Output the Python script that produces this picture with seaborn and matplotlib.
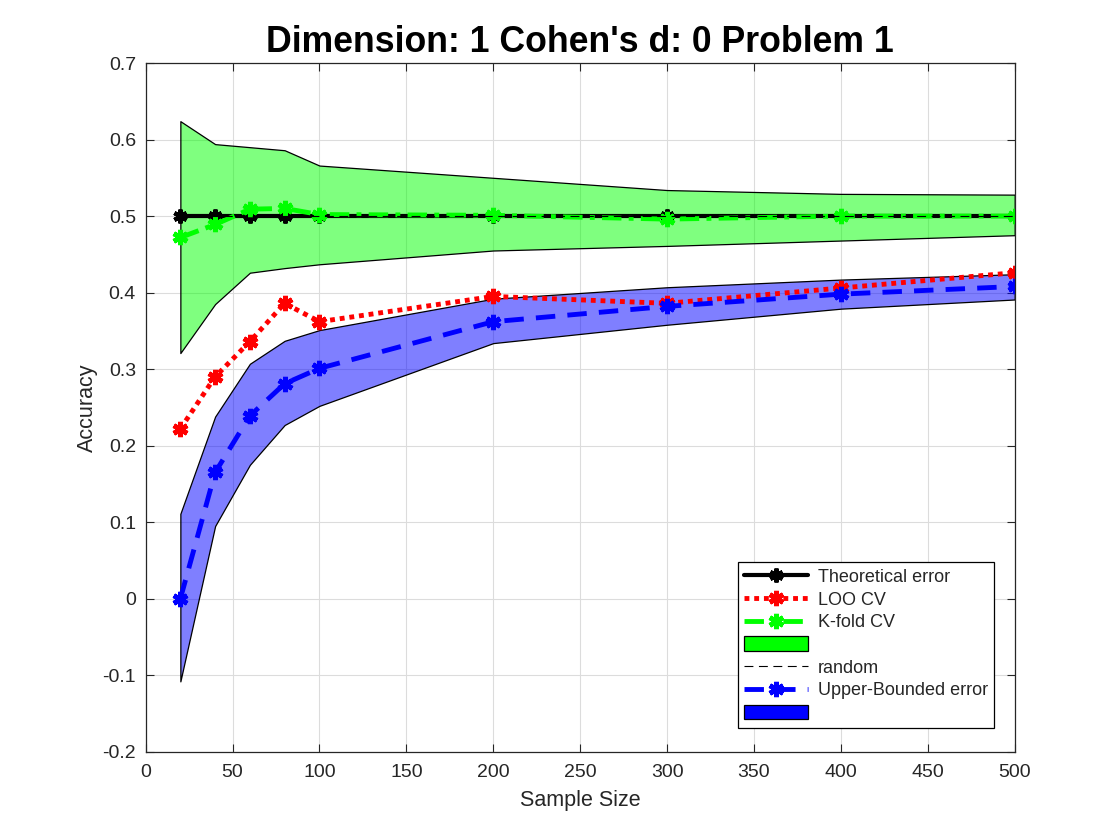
import numpy as np
import pandas as pd
import matplotlib
matplotlib.use("Agg")
import matplotlib.pyplot as plt
import seaborn as sns
from matplotlib.lines import Line2D
from matplotlib.patches import Patch


# ==================================
# DATA
# ==================================

sample_sizes = [20, 40, 60, 80, 100, 200, 300, 400, 500]

theoretical = [0.5, 0.5, 0.5, 0.5, 0.5, 0.5, 0.5, 0.5, 0.5]

loo_cv = [0.222, 0.290, 0.336, 0.386, 0.362, 0.395, 0.386, 0.406, 0.426]

kfold_cv = [0.472, 0.489, 0.509, 0.510, 0.502, 0.501, 0.496, 0.500, 0.500]
kfold_upper = [0.624, 0.594, 0.590, 0.586, 0.566, 0.550, 0.534, 0.529, 0.528]
kfold_lower = [0.321, 0.385, 0.426, 0.432, 0.437, 0.455, 0.461, 0.468, 0.475]

random_level = [0.5, 0.5]
random_x = [20, 500]

upper_bounded = [0.0, 0.165, 0.239, 0.281, 0.301, 0.362, 0.382, 0.398, 0.408]
ub_upper = [0.111, 0.238, 0.307, 0.337, 0.351, 0.392, 0.407, 0.417, 0.424]
ub_lower = [-0.108, 0.095, 0.175, 0.227, 0.252, 0.334, 0.358, 0.379, 0.391]

title_text = "Dimension: 1 Cohen's d: 0 Problem 1"

df = pd.DataFrame({
    "n": sample_sizes,
    "theoretical": theoretical,
    "loo": loo_cv,
    "kfold": kfold_cv,
    "ub": upper_bounded,
})


# ==================================
# STYLE
# ==================================

sns.set_style("ticks")
plt.rcParams["font.family"] = ["Liberation Sans", "DejaVu Sans"]
plt.rcParams["xtick.direction"] = "in"
plt.rcParams["ytick.direction"] = "in"

asterisk = (6, 2, 0)

fig = plt.figure(figsize=(11.2, 8.4), dpi=100)
ax = fig.add_axes([0.130, 0.105, 0.776, 0.820])


# ==================================
# PLOT
# ==================================

sns.lineplot(
    data=df, x="n", y="theoretical", ax=ax,
    color="black", linewidth=3, marker=asterisk,
    markersize=10, markeredgewidth=3, markeredgecolor="black",
)

sns.lineplot(
    data=df, x="n", y="loo", ax=ax,
    color="red", linewidth=3.5, linestyle=(0, (1, 1)), marker=asterisk,
    markersize=11, markeredgewidth=3.5, markeredgecolor="red",
)

sns.lineplot(
    data=df, x="n", y="kfold", ax=ax,
    color="#00ff00", linewidth=3.5, linestyle=(0, (4, 1.5, 1, 1.5)),
    marker=asterisk, markersize=11, markeredgewidth=3.5,
    markeredgecolor="#00ff00",
)

ax.fill_between(
    sample_sizes, kfold_lower, kfold_upper,
    facecolor=(0, 1, 0, 0.5), edgecolor="black", linewidth=0.9,
)

ax.plot(random_x, random_level, color="black", linewidth=0.8,
        linestyle=(0, (8, 5)))

sns.lineplot(
    data=df, x="n", y="ub", ax=ax,
    color="blue", linewidth=3.5, linestyle=(0, (4, 2.5)), marker=asterisk,
    markersize=11, markeredgewidth=3.5, markeredgecolor="blue",
)

ax.fill_between(
    sample_sizes, ub_lower, ub_upper,
    facecolor=(0, 0, 1, 0.5), edgecolor="black", linewidth=0.9,
)


# ==================================
# AXES
# ==================================

ax.set_xlim(0, 500)
ax.set_ylim(-0.2, 0.7)
ax.set_xticks(np.arange(0, 501, 50))
yt = np.round(np.arange(-0.2, 0.71, 0.1), 1)
ax.set_yticks(yt)
ax.set_yticklabels([f"{v:g}" for v in yt])

ax.grid(True, color="#dcdcdc", linewidth=0.8)
ax.set_axisbelow(True)
ax.tick_params(axis="both", labelsize=14, length=6, width=0.8,
               top=True, right=True, color="#262626", labelcolor="#262626")
ax.tick_params(axis="x", pad=9)
ax.tick_params(axis="y", pad=7)
for side in ax.spines.values():
    side.set_visible(True)
    side.set_linewidth(0.9)
    side.set_color("#262626")

ax.set_xlabel("Sample Size", fontsize=15.5, color="#262626", labelpad=6)
ax.set_ylabel("Accuracy", fontsize=15.5, color="#262626", labelpad=3)
ax.set_title(title_text, fontsize=25.7, fontweight="bold", pad=8,
             color="black")


# ==================================
# LEGEND
# ==================================

handles = [
    Line2D([], [], color="black", linewidth=3, marker=asterisk,
           markersize=10, markeredgewidth=3),
    Line2D([], [], color="red", linewidth=3.5, linestyle=(0, (1, 1)),
           marker=asterisk, markersize=11, markeredgewidth=3.5),
    Line2D([], [], color="#00ff00", linewidth=3.5,
           linestyle=(0, (4, 1.5, 1, 1.5)), marker=asterisk,
           markersize=11, markeredgewidth=3.5),
    Patch(facecolor="#00ff00", edgecolor="black", linewidth=0.9),
    Line2D([], [], color="black", linewidth=0.8, linestyle=(0, (8, 5))),
    Line2D([], [], color="blue", linewidth=3.5, linestyle=(0, (4, 2.5)),
           marker=asterisk, markersize=11, markeredgewidth=3.5),
    Patch(facecolor="blue", edgecolor="black", linewidth=0.9),
]
labels = [
    "Theoretical error", "LOO CV", "K-fold CV", "",
    "random", "Upper-Bounded error", "",
]

leg = ax.legend(
    handles, labels, loc="lower right", bbox_to_anchor=(0.9865, 0.021),
    fontsize=13, frameon=True, fancybox=False, framealpha=1,
    edgecolor="black", handlelength=3.5, handletextpad=0.55,
    handleheight=0.85, labelspacing=0.29, borderpad=0.35,
)
leg.get_frame().set_linewidth(0.9)

fig.savefig("out.png", dpi=100, facecolor="white")
